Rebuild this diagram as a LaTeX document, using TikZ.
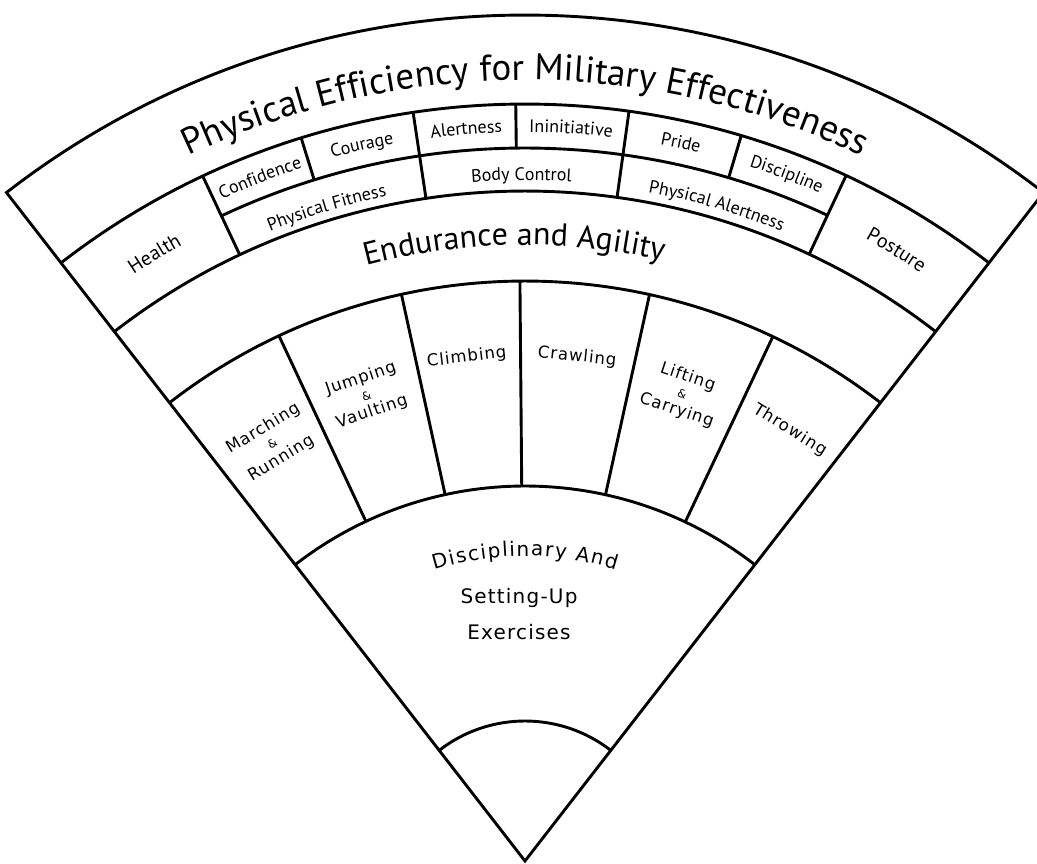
\documentclass[tikz,border=0pt]{standalone}
\usepackage{fontspec}
\setmainfont{PT Sans}
\newfontfamily\actfont[LetterSpace=6]{DejaVu Sans}
\usetikzlibrary{decorations.text}
\newcommand\arclabel[4]{\path[decorate,decoration={text along path,text align=center,text={|#3|#4}}]
  ({90-(#2)+25}:#1pt) arc[start angle={90-(#2)+25},end angle={90-(#2)-25},radius=#1pt];}
\newcommand\radial[3]{\draw ({90-(#1)}:#2pt) -- ({90-(#1)}:#3pt);}
\newcommand\bandfont{\fontsize{18}{20}\selectfont}
\newcommand\bigband{\fontsize{20}{22}\selectfont}
\newcommand\ks[1]{{#1\kern1.5pt}}
\begin{document}
\begin{tikzpicture}[line width=2.9pt, line join=miter,
  act/.style={font=\actfont\fontsize{16.5}{17.5}\selectfont, align=center, inner sep=0pt},
  amp/.style={font=\fontsize{10}{10}\selectfont}]
\useasboundingbox (-525pt,-2pt) rectangle (512pt,861pt);
\def\La{127.8}\def\Ra{52.2}
% outline
\draw (0,0) -- (\La:846pt) arc[start angle=\La,end angle=\Ra,radius=846pt] -- cycle;
\foreach \r in {140,375,580,670,757}
  \draw (\La:\r pt) arc[start angle=\La,end angle=\Ra,radius=\r pt];
\draw (115.2:713pt) arc[start angle=115.2,end angle=64.9,radius=713pt];
% radial dividers
\radial{-25.2}{670}{757}
\radial{25.1}{670}{757}
\radial{-8.5}{670}{757}
\radial{7.9}{670}{757}
\radial{-17.2}{713}{757}
\radial{-0.7}{713}{757}
\radial{16.6}{713}{757}
\radial{-25.1}{375}{580}
\radial{-12.3}{375}{580}
\radial{-0.5}{375}{580}
\radial{12.4}{375}{580}
\radial{25.3}{375}{580}
% curved texts
\path[decorate,decoration={text along path,text align=center,
  text={|\fontsize{37}{40}\selectfont|Physical Efficiency for Military Effectiveness}}]
  (125:781pt) arc[start angle=125,end angle=55,radius=781pt];
\path[decorate,decoration={text along path,text align=center,
  text={|\fontsize{32}{36}\selectfont|Endurance and Agility}}]
  (116:616pt) arc[start angle=116,end angle=66,radius=616pt];
\path[decorate,decoration={text along path,text align=center,
  text={|\actfont\fontsize{20}{22}\selectfont|\ks{D}\ks{i}\ks{s}\ks{c}\ks{i}\ks{p}\ks{l}\ks{i}\ks{n}\ks{a}\ks{r}\ks{y} \ks{A}\ks{n}d}}]
  (125:305pt) arc[start angle=125,end angle=55,radius=305pt];
% band labels
\arclabel{705}{-31.4}{\bigband}{Health}
\arclabel{709}{31.3}{\bigband}{Posture}
\arclabel{728}{-21.2}{\bandfont}{Confidence}
\arclabel{729}{-12.85}{\bandfont}{Courage}
\arclabel{729}{-4.6}{\bandfont}{Alertness}
\arclabel{729}{3.6}{\bandfont}{Ininitiative}
\arclabel{729}{12.25}{\bandfont}{Pride}
\arclabel{730}{20.85}{\bandfont}{Discipline}
\arclabel{679}{-16.9}{\bandfont}{Physical Fitness}
\arclabel{681}{-0.3}{\bandfont}{Body Control}
\arclabel{680}{16.3}{\bandfont}{Physical Alertness}
% activities
\node[act, rotate=31.2] (march) at ({90+31.2}:488pt)
  {Marching\\{\fontsize{11.5}{11}\selectfont\&}\\Running};
\node[act, rotate=18.8] (jump) at ({90+18.8}:492pt)
  {Jumping\\{\fontsize{11.5}{11}\selectfont\&}\\Vaulting};
\node[act, rotate=6.6] (climb) at ({90+6.6}:507pt) {Climbing};
\node[act, rotate=-5.9] (crawl) at ({90-5.9}:507pt) {Crawling};
\node[act, rotate=-18.6] (lift) at ({90-18.6}:493pt)
  {Lifting\\{\fontsize{11.5}{11}\selectfont\&}\\Carrying};
\node[act, rotate=-31.6] (throw) at ({90-31.6}:506pt) {Throwing};
% bottom
\node[act, font=\actfont\fontsize{20}{22}\selectfont] (setup) at (-6pt,263pt) {Setting-Up};
\node[act, font=\actfont\fontsize{20}{22}\selectfont] (exer) at (-6pt,229pt) {Exercises};
\end{tikzpicture}
\end{document}
